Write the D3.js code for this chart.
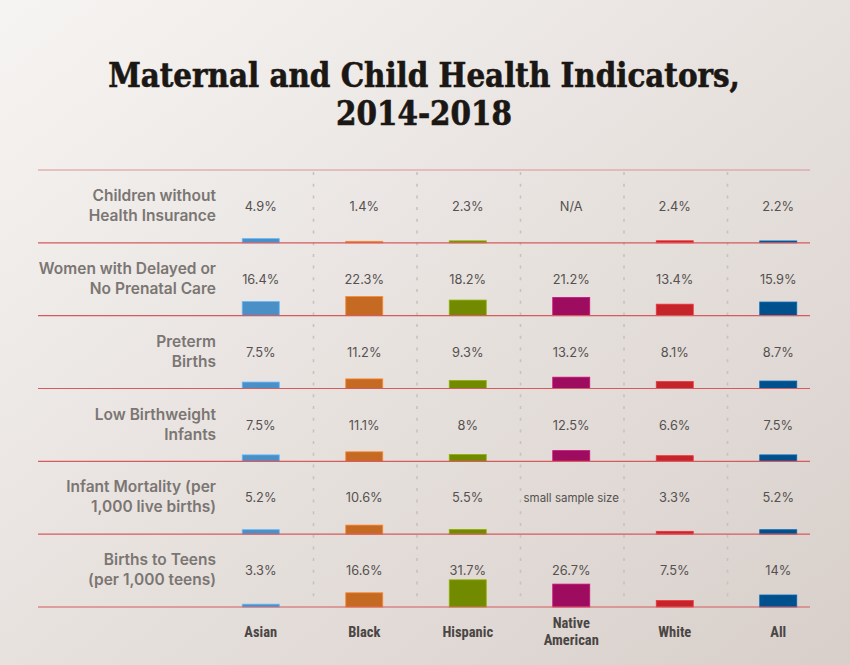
<!DOCTYPE html>
<html>
<head>
<meta charset="utf-8">
<script src="https://cdn.jsdelivr.net/npm/d3@7"></script>
<style>
  html, body { margin: 0; padding: 0; }
  body { width: 850px; height: 665px; overflow: hidden; }
</style>
</head>
<body>
<div id="chart"></div>
<script>
// Data
var groups      = [ 'Asian', 'Black', 'Hispanic', 'Native American', 'White', 'All' ];
var group_lines = [ ['Asian'], ['Black'], ['Hispanic'], ['Native', 'American'], ['White'], ['All'] ];
var indicators  = [
    [ 'Children without', 'Health Insurance' ],
    [ 'Women with Delayed or', 'No Prenatal Care' ],
    [ 'Preterm', 'Births' ],
    [ 'Low Birthweight', 'Infants' ],
    [ 'Infant Mortality (per', '1,000 live births)' ],
    [ 'Births to Teens', '(per 1,000 teens)' ]
];
var uninsured   = [ 4.9, 1.4, 2.3, null, 2.4, 2.2 ];
var prenatal    = [ 16.4, 22.3, 18.2, 21.2, 13.4, 15.9 ];
var preterm     = [ 7.5, 11.2, 9.3, 13.2, 8.1, 8.7 ];
var low_weight  = [ 7.5, 11.1, 8, 12.5, 6.6, 7.5 ];
var infant_mort = [ 5.2, 10.6, 5.5, null, 3.3, 5.2 ];
var teen_births = [ 3.3, 16.6, 31.7, 26.7, 7.5, 14 ];
var missing_txt = [ 'N/A', null, null, null, 'small sample size', null ];

var rows = [ uninsured, prenatal, preterm, low_weight, infant_mort, teen_births ];
var colors = [ '#4a8fc6', '#c56a23', '#718a00', '#9e0c5f', '#c3252b', '#00508d' ];

var chart_width  = 850;
var chart_height = 665;

var svg = d3.select('#chart')
    .append('svg')
    .attr('width', chart_width)
    .attr('height', chart_height);

// background gradient
var grad = svg.append('defs').append('linearGradient')
    .attr('id', 'bg')
    .attr('x1', 0).attr('y1', 0).attr('x2', 1).attr('y2', 1);
grad.append('stop').attr('offset', 0).attr('stop-color', '#f6f4f2');
grad.append('stop').attr('offset', 1).attr('stop-color', '#d8cfca');
svg.append('rect')
    .attr('width', chart_width).attr('height', chart_height)
    .attr('fill', 'url(#bg)');

// Title
var title = svg.append('text')
    .attr('x', 424)
    .attr('text-anchor', 'middle')
    .attr('font-family', '"DejaVu Serif Condensed", "DejaVu Serif", serif')
    .attr('font-weight', 'bold')
    .attr('font-size', 34)
    .attr('fill', '#1b1714')
    .attr('stroke', '#1b1714')
    .attr('stroke-width', 0.6);
title.append('tspan').attr('x', 424).attr('y', 87).text('Maternal and Child Health Indicators,');
title.append('tspan').attr('x', 424).attr('y', 125).text('2014-2018');
// squeeze first line to the reference width
var w1 = title.select('tspan').node().getComputedTextLength();
var sx = 632 / w1;
title.attr('transform', 'translate(424,0) scale(' + sx + ',1) translate(-424,0)');

// Scales
var row_index = d3.range(rows.length);
var y_scale = d3.scaleBand()
    .domain(row_index)
    .range([ 170, 607 ]);

var x_scale = d3.scaleBand()
    .domain(groups)
    .range([ 209, 830 ]);

var h_scale = d3.scaleLinear()
    .domain([ 0, 35 ])
    .range([ 0, 30 ]);

var bar_w = 37;

// dotted column separators
svg.append('g')
    .selectAll('line')
    .data(groups.slice(1))
    .enter()
    .append('line')
    .attr('x1', function(d){ return x_scale(d) + 1; })
    .attr('x2', function(d){ return x_scale(d) + 1; })
    .attr('y1', 172)
    .attr('y2', 605)
    .attr('stroke', '#c7c2be')
    .attr('stroke-width', 1.6)
    .attr('stroke-dasharray', '3 8.7');

// Rows
var row_g = svg.append('g')
    .selectAll('g')
    .data(rows)
    .enter()
    .append('g')
    .attr('transform', function(d, i){
        return 'translate(0,' + y_scale(i) + ')';
    });

// row labels
row_g.append('text')
    .attr('text-anchor', 'end')
    .attr('font-family', 'Inter, "Noto Sans", sans-serif')
    .attr('font-weight', 600)
    .attr('font-size', 15.5)
    .attr('fill', '#7b7673')
    .selectAll('tspan')
    .data(function(d, i){ return indicators[i]; })
    .enter()
    .append('tspan')
    .attr('x', 216)
    .attr('y', function(d, j){ return 31 + j * 20; })
    .text(function(d){ return d; });

// bars
var base = y_scale.bandwidth();
row_g.selectAll('rect')
    .data(function(d){
        return d.map(function(v, j){ return { v: v, g: groups[j], c: colors[j] }; })
            .filter(function(o){ return o.v !== null; });
    })
    .enter()
    .append('rect')
    .attr('x', function(d){ return x_scale(d.g) + (x_scale.bandwidth() - bar_w) / 2; })
    .attr('width', bar_w)
    .attr('y', function(d){ return base - Math.max(h_scale(d.v), 1.5); })
    .attr('height', function(d){ return Math.max(h_scale(d.v), 1.5); })
    .attr('fill', function(d){ return d.c; })
    .attr('stroke', function(d){ return d3.color(d.c).brighter(0.7); })
    .attr('stroke-width', 0.8);

// value labels
row_g.selectAll('text.val')
    .data(function(d, i){
        return d.map(function(v, j){
            return v === null ? missing_txt[i] : v + '%';
        });
    })
    .enter()
    .append('text')
    .attr('class', 'val')
    .attr('x', function(d, j){ return x_scale(groups[j]) + x_scale.bandwidth() / 2; })
    .attr('y', 41)
    .attr('text-anchor', 'middle')
    .attr('font-family', 'Inter, "Noto Sans", sans-serif')
    .attr('font-size', function(d){ return d.length > 6 ? 11.5 : 12.8; })
    .attr('fill', '#555150')
    .text(function(d){ return d; });

// horizontal rules
svg.append('g')
    .selectAll('line')
    .data(d3.range(rows.length + 1))
    .enter()
    .append('line')
    .attr('x1', 38)
    .attr('x2', 810)
    .attr('y1', function(d){ return 170 + d * y_scale.step(); })
    .attr('y2', function(d){ return 170 + d * y_scale.step(); })
    .attr('stroke', function(d){ return d === 0 ? '#da9494' : '#d65a5e'; })
    .attr('stroke-width', 1.2);

// column labels
var col_lab = svg.append('g')
    .selectAll('text')
    .data(groups)
    .enter()
    .append('text')
    .attr('text-anchor', 'middle')
    .attr('font-family', '"Liberation Sans Narrow", "Roboto Condensed", Roboto, sans-serif')
    .attr('font-weight', 'bold')
    .attr('font-size', 14.5)
    .attr('fill', '#4a4644');
col_lab.selectAll('tspan')
    .data(function(d, i){ return group_lines[i]; })
    .enter()
    .append('tspan')
    .attr('x', function(){
        var g = d3.select(this.parentNode).datum();
        return x_scale(g) + x_scale.bandwidth() / 2;
    })
    .attr('y', function(d, j, nodes){
        return nodes.length === 1 ? 637 : 628 + j * 17;
    })
    .text(function(d){ return d; });
</script>
</body>
</html>
